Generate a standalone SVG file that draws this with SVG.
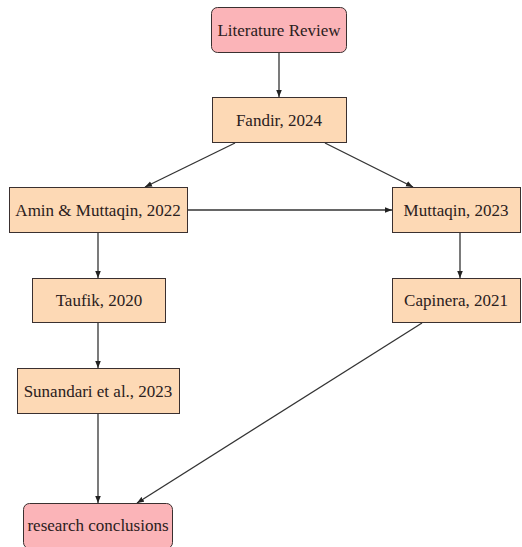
<svg xmlns="http://www.w3.org/2000/svg" width="522" height="547" viewBox="0 0 522 547">
<style>
.box{fill:#fdd9b5;stroke:#3a3030;stroke-width:1}
.term{fill:#fbb4b8;stroke:#3a3030;stroke-width:1}
text{font-family:"Liberation Serif","DejaVu Serif",serif;font-size:17px;fill:#2a2020;text-anchor:middle;dominant-baseline:central}
.c{stroke:#333;stroke-width:1.3;fill:none;marker-end:url(#ah)}
</style>
<defs>
<marker id="ah" viewBox="0 0 10 10" refX="10" refY="5" markerWidth="7" markerHeight="7" orient="auto" markerUnits="userSpaceOnUse">
<path d="M0,1 L10,5 L0,9 Z" fill="#222"/>
</marker>
</defs>
<rect width="522" height="547" fill="#fff"/>
<g id="connectors">
<line class="c" x1="279" y1="52" x2="279" y2="97"/>
<line class="c" x1="235" y1="143" x2="145" y2="187"/>
<line class="c" x1="325" y1="143" x2="413" y2="187"/>
<line class="c" x1="188" y1="210" x2="392" y2="210"/>
<line class="c" x1="98" y1="233" x2="98" y2="278"/>
<line class="c" x1="460" y1="233" x2="460" y2="278"/>
<line class="c" x1="98" y1="323" x2="98" y2="368"/>
<line class="c" x1="98" y1="414" x2="98" y2="503"/>
<line class="c" x1="422" y1="323" x2="137" y2="503"/>
</g>
<g id="literature-review"><rect class="term" x="211.5" y="7.5" width="135" height="45" rx="6"/><text x="279" y="30">Literature Review</text></g>
<g id="fandir"><rect class="box" x="212.5" y="97.5" width="134" height="45"/><text x="279" y="120">Fandir, 2024</text></g>
<g id="amin"><rect class="box" x="9.5" y="187.5" width="178" height="45"/><text x="98" y="210">Amin &amp; Muttaqin, 2022</text></g>
<g id="muttaqin"><rect class="box" x="392.5" y="187.5" width="128" height="45"/><text x="456" y="210">Muttaqin, 2023</text></g>
<g id="taufik"><rect class="box" x="32.5" y="278.5" width="133" height="44"/><text x="99" y="300">Taufik, 2020</text></g>
<g id="capinera"><rect class="box" x="392.5" y="278.5" width="128" height="44"/><text x="456" y="300">Capinera, 2021</text></g>
<g id="sunandari"><rect class="box" x="17.5" y="368.5" width="162" height="45"/><text x="98" y="391">Sunandari et al., 2023</text></g>
<g id="research-conclusions"><rect class="term" x="23.5" y="503.5" width="149" height="45" rx="6"/><text x="98" y="525">research conclusions</text></g>
</svg>
